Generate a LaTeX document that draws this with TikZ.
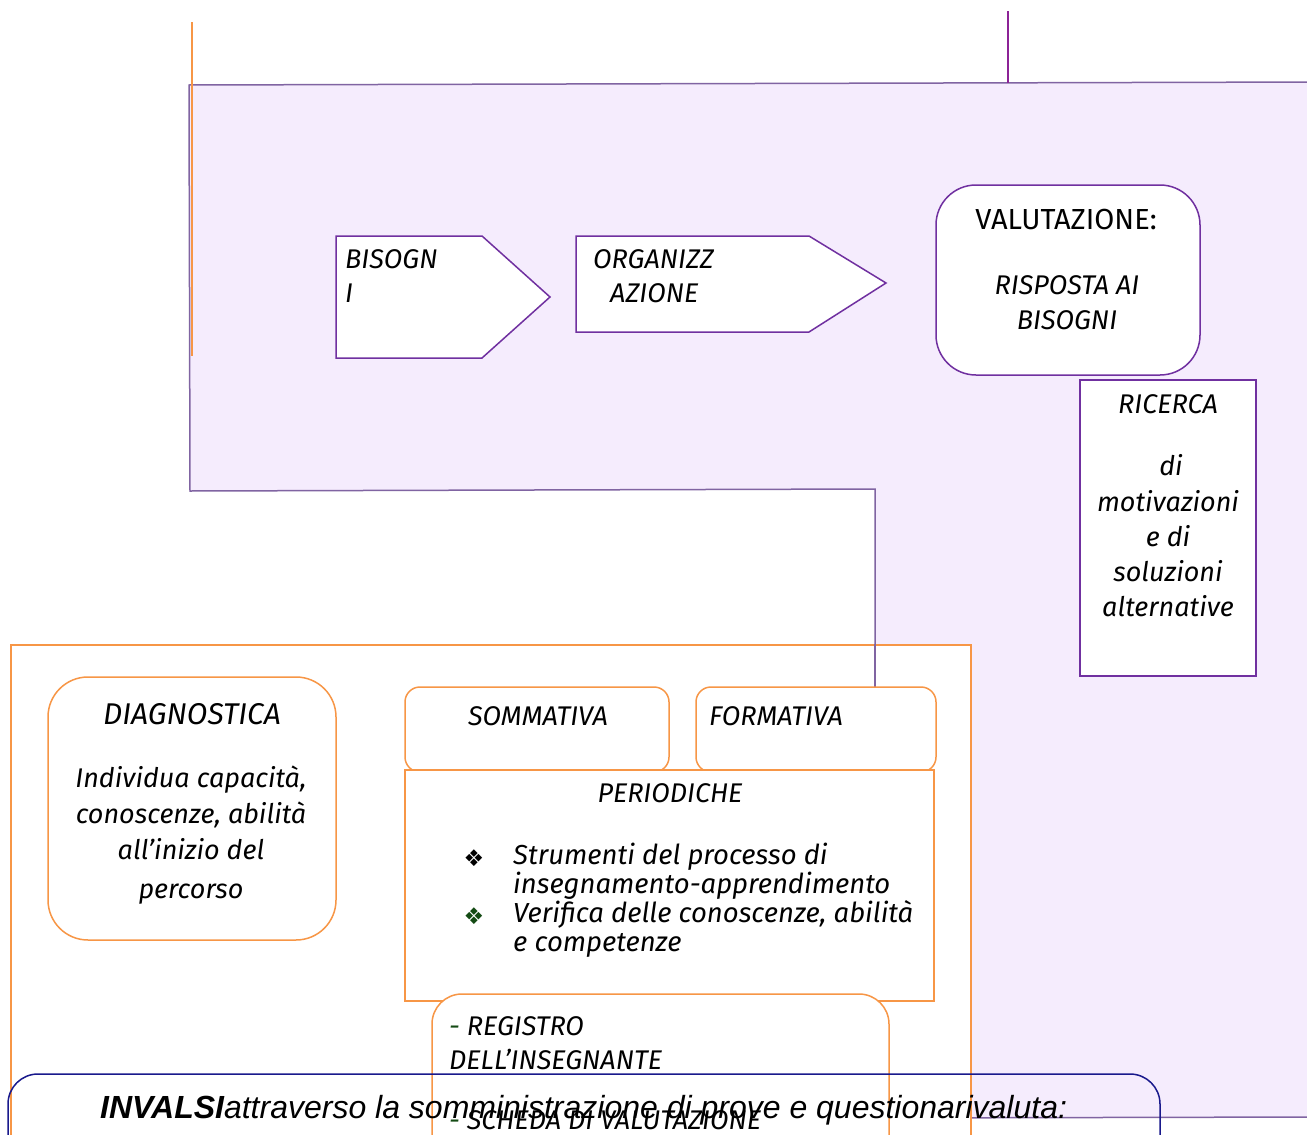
\documentclass[tikz,border=0pt]{standalone}
\usepackage{fontspec}
\setmainfont{Fira Sans}
\newfontfamily\symf{DejaVu Sans}
\newfontfamily\arialf{Liberation Sans}
\definecolor{lav}{RGB}{245,236,253}
\definecolor{lavb}{RGB}{128,100,162}
\definecolor{pbord}{RGB}{112,48,160}
\definecolor{topp}{RGB}{140,35,150}
\definecolor{orng}{RGB}{247,150,70}
\definecolor{navyb}{RGB}{25,25,140}
\definecolor{dgreen}{RGB}{20,75,20}
\tikzset{
  pbox/.style={draw=pbord, line width=1.5pt, fill=white},
  obox/.style={draw=orng, line width=1.5pt, fill=white},
  txt/.style={inner sep=0pt, font=\itshape\fontsize{27}{32}\selectfont},
  utxt/.style={inner sep=0pt, font=\fontsize{29}{34}\selectfont},
  ltxt/.style={inner sep=0pt, font=\itshape\fontsize{27.5}{32}\selectfont, anchor=mid west},
  bul/.style={inner sep=0pt, font=\symf\fontsize{23}{26}\selectfont},
}
\begin{document}
\begin{tikzpicture}[x=1pt,y=-1pt]
\useasboundingbox (0,0) rectangle (1307,1135);
\clip (0,0) rectangle (1307,1135);
% lavender L-shaped region
\draw[draw=lavb, line width=1.5pt, fill=lav] (189,85) -- (1320,82) -- (1320,1117) -- (875,1118) -- (875,489) -- (190,491) -- cycle;
% free lines
\draw[orng, line width=1.5pt] (192,22) -- (192,356);
\draw[topp, line width=1.3pt] (1008,11) -- (1008,83);
% arrows
\draw[pbox] (336,236) -- (482,236) -- (550,297) -- (482,358) -- (336,358) -- cycle;
\draw[pbox] (576,236) -- (809,236) -- (886,283) -- (809,332) -- (576,332) -- cycle;
\draw[pbox, rounded corners=40pt] (936,185) rectangle (1200,375);
\draw[pbox] (1080,380) rectangle (1256,676);
% orange group
\draw[obox] (11,645) rectangle (971,1200);
\draw[lavb, line width=1.5pt] (875,644) -- (875,688);
\draw[obox, rounded corners=40pt] (48,677) rectangle (336,940);
\draw[obox, rounded corners=15pt] (405,687) rectangle (669,772);
\draw[obox, rounded corners=15pt] (696,687) rectangle (936,772);
\draw[obox] (405,770) rectangle (934,1001);
\draw[obox, rounded corners=30pt] (432,994) rectangle (889,1200);
\draw[navyb, line width=1.5pt, rounded corners=30pt] (8,1074) rectangle (1160,1200);

% texts
\begin{scope}[yshift=-7pt]
\node[txt, anchor=mid west] (b1) at (345,259) {BISOGN};
\node[txt, anchor=mid west] (b2) at (345,293) {I};
\node[txt, anchor=mid west] (o1) at (593,259) {ORGANIZZ};
\node[txt, anchor=mid west] (o2) at (610,293) {AZIONE};
\node[utxt, anchor=mid] (v1) at (1066,220) {VALUTAZIONE:};
\node[txt, anchor=mid] (v2) at (1067,285) {RISPOSTA AI};
\node[txt, anchor=mid] (v3) at (1067,320) {BISOGNI};
\node[txt, anchor=mid] (r1) at (1168,404) {RICERCA};
\node[txt, anchor=mid] (r2) at (1171,466) {di};
\node[txt, anchor=mid] (r3) at (1168,502) {motivazioni};
\node[txt, anchor=mid] (r4) at (1168,537) {e di};
\node[txt, anchor=mid] (r5) at (1168,572) {soluzioni};
\node[txt, anchor=mid] (r6) at (1168,607) {alternative};
\node[txt, anchor=mid, font=\itshape\fontsize{30}{34}\selectfont] (d1) at (192,715) {DIAGNOSTICA};
\node[txt, anchor=mid] (d2) at (191,778) {Individua capacità,};
\node[txt, anchor=mid] (d3) at (191,814) {conoscenze, abilità};
\node[txt, anchor=mid] (d4) at (191,850) {all’inizio del};
\node[txt, anchor=mid] (d5) at (191,889) {percorso};
\node[txt, anchor=mid] (s1) at (538,716) {SOMMATIVA};
\node[txt, anchor=mid west] (f1) at (709,716) {FORMATIVA};
\node[txt, anchor=mid] (p0) at (670,793) {PERIODICHE};
\node[bul] (bu1) at (474,851) {❖};
\node[bul, text=dgreen] (bu2) at (474,909) {❖};
\node[ltxt] (p1) at (513,855) {Strumenti del processo di};
\node[ltxt] (p2) at (513,884) {insegnamento-apprendimento};
\node[ltxt] (p3) at (513,913) {Verifica delle conoscenze, abilità};
\node[ltxt] (p4) at (513,942) {e competenze};
\node[txt, anchor=mid west] (g1) at (449,1026) {{\color{dgreen}-} REGISTRO};
\node[txt, anchor=mid west] (g2) at (449,1060) {DELL’INSEGNANTE};
\node[txt, anchor=mid west] (g3) at (449,1120) {{\color{dgreen}-} SCHEDA DI VALUTAZIONE};
\node[inner sep=0pt, anchor=mid west, font=\arialf\itshape\fontsize{32}{36}\selectfont] (inv) at (100,1109) {\bfseries INVALSI\mdseries attraverso la somministrazione di prove e questionarivaluta:};
\end{scope}
\end{tikzpicture}
\end{document}
